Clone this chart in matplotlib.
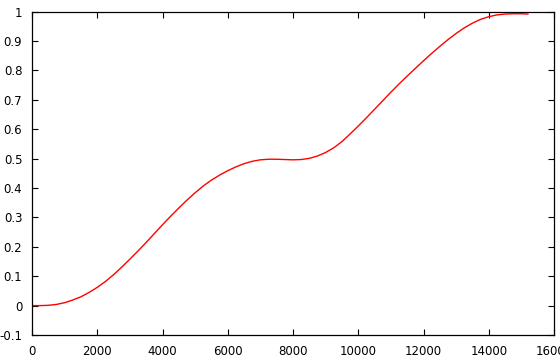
import numpy as np
import matplotlib
matplotlib.use('Agg')
import matplotlib.pyplot as plt

# values
x = [0, 250, 500, 750, 1000, 1250, 1500, 1750, 2000, 2250, 2500, 2750, 3000,
     3250, 3500, 3750, 4000, 4250, 4500, 4750, 5000, 5250, 5500, 5750, 6000,
     6250, 6500, 6750, 7000, 7250, 7500, 7750, 8000, 8250, 8500, 8750, 9000,
     9250, 9500, 9750, 10000, 10250, 10500, 10750, 11000, 11250, 11500,
     11750, 12000, 12250, 12500, 12750, 13000, 13250, 13500, 13750, 14000,
     14250, 14500, 14750, 15000, 15200]
y = [0.0, 0.0, 0.001, 0.004, 0.010, 0.019, 0.030, 0.045, 0.062, 0.082, 0.105,
     0.131, 0.158, 0.186, 0.215, 0.245, 0.275, 0.304, 0.332, 0.359, 0.384,
     0.407, 0.427, 0.444, 0.459, 0.472, 0.483, 0.491, 0.496, 0.498, 0.498,
     0.497, 0.496, 0.497, 0.501, 0.509, 0.521, 0.537, 0.558, 0.584, 0.611,
     0.639, 0.668, 0.697, 0.726, 0.754, 0.781, 0.807, 0.833, 0.858, 0.882,
     0.905, 0.926, 0.945, 0.961, 0.974, 0.983, 0.989, 0.992, 0.993, 0.993,
     0.992]

xticks = np.arange(0, 16001, 2000)
yticks = np.round(np.arange(-0.1, 1.01, 0.1), 1)
ylabels = ['-0.1', '0'] + ['%g' % v for v in yticks[2:]]

fig = plt.figure(figsize=(5.6, 3.6), dpi=100)
ax = fig.add_axes([32/560, 1-335/360, 522/560, 323.3/360])
ax.plot(x, y, color='red', lw=1.0)

ax.set_xlim(0, 16000)
ax.set_ylim(-0.1, 1.0)
ax.set_xticks(xticks)
ax.set_xticklabels([str(v) for v in xticks])
ax.set_yticks(yticks)
ax.set_yticklabels(ylabels)
ax.tick_params(direction='in', length=4.5, width=0.8, top=True, right=True,
               labelsize=8.5, pad=7, colors='black')
for s in ax.spines.values():
    s.set_linewidth(0.9)

fig.savefig('out.png', dpi=100)
